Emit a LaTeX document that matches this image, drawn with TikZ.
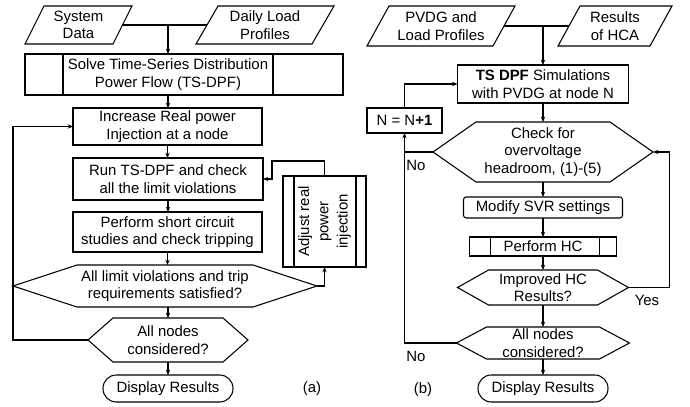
\documentclass[tikz,border=0pt]{standalone}
\usepackage{fontspec}
\usepackage{graphicx}
\setmainfont{Liberation Sans}
\usetikzlibrary{arrows.meta,calc}
\newcommand\dfont{\fontsize{11.2}{13.2}\selectfont}
\newcommand\hexa[2]{\draw[ln] (#1.west) -- ([xshift=#2*0.75pt]#1.north west) -- ([xshift=-#2*0.75pt]#1.north east) -- (#1.east) -- ([xshift=-#2*0.75pt]#1.south east) -- ([xshift=#2*0.75pt]#1.south west) -- cycle;}
\newcommand\paral[2]{\draw[ln] (#1.south west) -- ([xshift=#2*0.75pt]#1.north west) -- (#1.north east) -- ([xshift=-#2*0.75pt]#1.south east) -- cycle;}
\newcommand\ppl[3]{\draw[ln] ([xshift=#2*0.75pt]#1.north west) -- ([xshift=#2*0.75pt]#1.south west); \draw[ln] ([xshift=-#3*0.75pt]#1.north east) -- ([xshift=-#3*0.75pt]#1.south east);}
\begin{document}
\begin{tikzpicture}[x=0.75pt,y=-0.75pt,
  ln/.style={line width=0.8pt},
  box/.style={draw,ln,rectangle,inner sep=0pt,outer sep=0pt,align=center,font=\dfont},
  plain/.style={rectangle,inner sep=0pt,outer sep=0pt,align=center,font=\dfont},
  sz/.style 2 args={minimum width=#1*0.75pt,minimum height=#2*0.75pt},
  conn/.style={line width=1pt,-{Stealth[length=4pt,width=3.2pt]}},
  cl/.style={line width=1pt},
  lab/.style={font=\dfont,inner sep=0pt}]
\useasboundingbox (0,0) rectangle (690,407);

% ---------- panel (a) ----------
\node[plain,sz={107}{38}] (sys) at (78.5,25) {System\\Data};
\paral{sys}{19}
\node[plain,sz={138}{38}] (daily) at (265,25) {Daily Load\\Profiles};
\paral{daily}{22}
\coordinate (j1) at (168,25);
\node[box,sz={210}{41}] (solve) at (168,74.5) {Solve Time-Series Distribution\\Power Flow (TS-DPF)};
\draw[ln] ([xshift=-38*0.75pt]solve.north west) rectangle ([xshift=70*0.75pt]solve.south east);
\draw[line width=1.4pt] ([xshift=-38*0.75pt]solve.south west) -- ([xshift=70*0.75pt]solve.south east);
\node[box,sz={189}{37}] (inc) at (167.5,126.5) {Increase Real power\\Injection at a node};
\node[box,sz={190}{42}] (run) at (168,179) {Run TS-DPF and check\\all the limit violations};
\node[box,sz={189}{40}] (perf) at (167.5,232) {Perform short circuit\\studies and check tripping};
\node[plain,sz={304}{42}] (lim) at (165,286) {All limit violations and trip\\requirements satisfied?};
\hexa{lim}{64}
\node[plain,sz={160}{44}] (alln) at (168,340) {All nodes\\considered?};
\hexa{alln}{25}
\node[box,sz={130}{27},rounded corners=10pt] (disp) at (168,388.5) {Display Results};
\node[box,line width=1.1pt,sz={83}{91}] (adj) at (324.5,221.5) {\rotatebox{90}{\renewcommand\arraystretch{1.1}\begin{tabular}{@{}c@{}}Adjust real\\power\\injection\end{tabular}}};
\ppl{adj}{11}{10}
\node[lab] (la) at (312,389) {(a)};

\draw[cl] ([xshift=-9.5*0.75pt]sys.east) -- ([xshift=11*0.75pt]daily.west);
\draw[conn] (j1) -- (solve.north);
\draw[conn] (solve.south) -- (solve.south |- inc.north);
\draw[conn] (inc.south) -- (inc.south |- run.north);
\draw[conn] (run.south) -- (run.south |- perf.north);
\draw[conn] (perf.south) -- (perf.south |- lim.north);
\draw[conn] (lim.south -| alln.north) -- (alln.north);
\draw[conn] (alln.south) -- (disp.north);
\draw[conn] (alln.west) -- ++(-75,0) |- (inc.west);
\draw[conn] (lim.east) -| (adj.south);
\draw[conn] (adj.north) -- ++(0,-15) -- ++(-52.5,0) |- (run.east);

% ---------- panel (b) ----------
\node[plain,sz={148}{40}] (pv) at (441,26) {PVDG and\\Load Profiles};
\paral{pv}{22}
\node[plain,sz={114}{40}] (hca) at (615,26) {Results\\of HCA};
\paral{hca}{22}
\coordinate (j2) at (543,26);
\node[box,sz={171}{38}] (ts) at (543,84) {\textbf{TS DPF} Simulations\\with PVDG at node N};
\node[box,sz={75}{25}] (nn) at (404.5,120.5) {N = N\textbf{+1}};
\node[plain,sz={220}{60}] (chk) at (543,152) {Check for\\overvoltage\\headroom, (1)-(5)};
\hexa{chk}{43}
\node[box,sz={159}{21},rounded corners=2pt] (svr) at (543,207.5) {Modify SVR settings};
\node[box,sz={147}{19}] (phc) at (543,246.5) {Perform HC};
\ppl{phc}{21}{17}
\node[plain,sz={171}{35}] (imp) at (543,287.5) {Improved HC\\Results?};
\hexa{imp}{31}
\node[plain,sz={173}{32}] (alr) at (543,343) {All nodes\\considered?};
\hexa{alr}{30}
\node[box,sz={130}{27},rounded corners=10pt] (dr) at (543,388.5) {Display Results};
\node[lab] (lb) at (423,390) {(b)};
\node[lab] (no1) at (416,165) {No};
\node[lab] (no2) at (416,356) {No};
\node[lab] (yes) at (647,300) {Yes};

\draw[cl] ([xshift=-11*0.75pt]pv.east) -- ([xshift=11*0.75pt]hca.west);
\draw[conn] (j2) -- (ts.north);
\draw[conn] (ts.south) -- (chk.north);
\draw[conn] (chk.south) -- (svr.north);
\draw[conn] (svr.south) -- (phc.north);
\draw[conn] (phc.south) -- (imp.north);
\draw[conn] (imp.south) -- (alr.north);
\draw[conn] (alr.south) -- (dr.north);
\draw[conn] (alr.west) -| (nn.south);
\draw[cl] (chk.west) -- (nn.south |- chk.west);
\draw[conn] (nn.north) |- (ts.west);
\draw[conn] (imp.east) -- ++(41,0) |- (chk.east);
\end{tikzpicture}
\end{document}
